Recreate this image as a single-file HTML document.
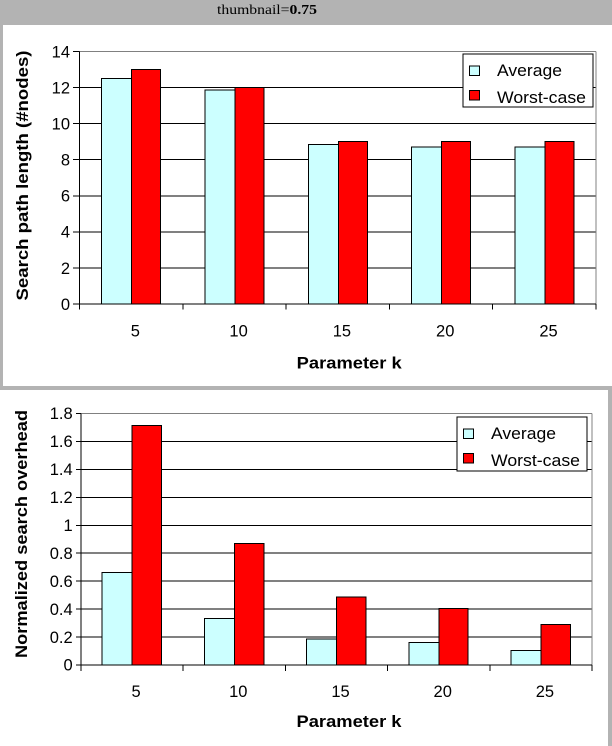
<!DOCTYPE html>
<html><head><meta charset="utf-8"><style>
html,body{margin:0;padding:0;background:#b3b3b3;}
svg{display:block;}
text{font-family:"Liberation Sans",Arial,sans-serif;fill:#000;}
</style></head><body>
<svg width="612" height="746" viewBox="0 0 612 746" xmlns="http://www.w3.org/2000/svg">
<rect x="0" y="0" width="612" height="746" fill="#b3b3b3"/>
<text x="267" y="14" text-anchor="middle" style="font-family:'Liberation Serif',serif;font-size:13.5px" textLength="100" lengthAdjust="spacingAndGlyphs">thumbnail=<tspan font-weight="bold">0.75</tspan></text>
<rect x="3" y="25" width="609" height="361" fill="#fff"/>
<rect x="0" y="390" width="608" height="356" fill="#fff"/>

<!-- TOP CHART -->
<g shape-rendering="crispEdges">
<g stroke="#000" stroke-width="1">
<line x1="79.5" y1="267.9" x2="596" y2="267.9"/>
<line x1="79.5" y1="231.8" x2="596" y2="231.8"/>
<line x1="79.5" y1="195.8" x2="596" y2="195.8"/>
<line x1="79.5" y1="159.7" x2="596" y2="159.7"/>
<line x1="79.5" y1="123.6" x2="596" y2="123.6"/>
<line x1="79.5" y1="87.5" x2="596" y2="87.5"/>
</g>
<g stroke="#808080" stroke-width="1">
<line x1="79.5" y1="51.5" x2="596" y2="51.5"/>
<line x1="596" y1="51.5" x2="596" y2="304"/>
</g>
<g stroke="#000" stroke-width="1">
<rect x="101.7" y="78.5" width="30" height="225.5" fill="#ccffff"/>
<rect x="131.7" y="69.5" width="29" height="234.5" fill="#ff0000"/>
<rect x="205" y="90.2" width="30" height="213.8" fill="#ccffff"/>
<rect x="235" y="87.5" width="29" height="216.5" fill="#ff0000"/>
<rect x="308.3" y="144.7" width="30" height="159.3" fill="#ccffff"/>
<rect x="338.3" y="141.6" width="29" height="162.4" fill="#ff0000"/>
<rect x="411.6" y="147.1" width="30" height="156.9" fill="#ccffff"/>
<rect x="441.6" y="141.6" width="29" height="162.4" fill="#ff0000"/>
<rect x="514.9" y="147.1" width="30" height="156.9" fill="#ccffff"/>
<rect x="544.9" y="141.6" width="29" height="162.4" fill="#ff0000"/>
</g>
<g stroke="#000" stroke-width="1">
<line x1="79.5" y1="51.5" x2="79.5" y2="309.5"/>
<line x1="79.5" y1="304" x2="596" y2="304"/>
<line x1="73" y1="304" x2="79.5" y2="304"/>
<line x1="73" y1="267.9" x2="79.5" y2="267.9"/>
<line x1="73" y1="231.8" x2="79.5" y2="231.8"/>
<line x1="73" y1="195.8" x2="79.5" y2="195.8"/>
<line x1="73" y1="159.7" x2="79.5" y2="159.7"/>
<line x1="73" y1="123.6" x2="79.5" y2="123.6"/>
<line x1="73" y1="87.5" x2="79.5" y2="87.5"/>
<line x1="73" y1="51.5" x2="79.5" y2="51.5"/>
<line x1="182.8" y1="304" x2="182.8" y2="309.5"/>
<line x1="286.1" y1="304" x2="286.1" y2="309.5"/>
<line x1="389.4" y1="304" x2="389.4" y2="309.5"/>
<line x1="492.7" y1="304" x2="492.7" y2="309.5"/>
<line x1="596" y1="304" x2="596" y2="309.5"/>
</g>
<rect x="463" y="54" width="130" height="53" fill="#fff" stroke="#000" stroke-width="1"/>
<rect x="469.5" y="66" width="10" height="9.5" fill="#ccffff" stroke="#000" stroke-width="1"/>
<rect x="469.5" y="90.5" width="10" height="9.5" fill="#ff0000" stroke="#000" stroke-width="1"/>
</g>
<g style="font-size:16.5px">
<text x="497" y="76" textLength="65" lengthAdjust="spacingAndGlyphs">Average</text>
<text x="497" y="103" textLength="89" lengthAdjust="spacingAndGlyphs">Worst-case</text>
</g>
<g style="font-size:16.5px" text-anchor="end">
<text x="70" y="309.9">0</text>
<text x="70" y="273.8">2</text>
<text x="70" y="237.7">4</text>
<text x="70" y="201.7">6</text>
<text x="70" y="165.6">8</text>
<text x="70" y="129.5">10</text>
<text x="70" y="93.4">12</text>
<text x="70" y="57.4">14</text>
</g>
<g style="font-size:16.5px" text-anchor="middle">
<text x="135.3" y="336.7">5</text>
<text x="238.6" y="336.7">10</text>
<text x="341.9" y="336.7">15</text>
<text x="445.2" y="336.7">20</text>
<text x="548.5" y="336.7">25</text>
</g>
<text x="349.2" y="368.3" text-anchor="middle" style="font-size:16.5px;font-weight:bold" textLength="105" lengthAdjust="spacingAndGlyphs">Parameter k</text>
<text transform="translate(28,175.5) rotate(-90)" text-anchor="middle" style="font-size:17px;font-weight:bold" textLength="250" lengthAdjust="spacingAndGlyphs">Search path length (#nodes)</text>

<!-- BOTTOM CHART -->
<g shape-rendering="crispEdges">
<g stroke="#000" stroke-width="1">
<line x1="81" y1="637.1" x2="592" y2="637.1"/>
<line x1="81" y1="609.1" x2="592" y2="609.1"/>
<line x1="81" y1="581.2" x2="592" y2="581.2"/>
<line x1="81" y1="553.2" x2="592" y2="553.2"/>
<line x1="81" y1="525.3" x2="592" y2="525.3"/>
<line x1="81" y1="497.4" x2="592" y2="497.4"/>
<line x1="81" y1="469.4" x2="592" y2="469.4"/>
<line x1="81" y1="441.5" x2="592" y2="441.5"/>
</g>
<g stroke="#808080" stroke-width="1">
<line x1="81" y1="413.5" x2="592" y2="413.5"/>
<line x1="592" y1="413.5" x2="592" y2="665"/>
</g>
<g stroke="#000" stroke-width="1">
<rect x="102.2" y="572.4" width="30" height="92.6" fill="#ccffff"/>
<rect x="132.2" y="425.6" width="29.4" height="239.4" fill="#ff0000"/>
<rect x="204.4" y="618.3" width="30" height="46.7" fill="#ccffff"/>
<rect x="234.4" y="543.3" width="29.4" height="121.7" fill="#ff0000"/>
<rect x="306.6" y="639" width="30" height="26" fill="#ccffff"/>
<rect x="336.6" y="597.2" width="29.4" height="67.8" fill="#ff0000"/>
<rect x="408.8" y="642.4" width="30" height="22.6" fill="#ccffff"/>
<rect x="438.8" y="608.3" width="29.4" height="56.7" fill="#ff0000"/>
<rect x="511" y="650.3" width="30" height="14.7" fill="#ccffff"/>
<rect x="541" y="624.3" width="29.4" height="40.7" fill="#ff0000"/>
</g>
<g stroke="#000" stroke-width="1">
<line x1="81" y1="413.5" x2="81" y2="671"/>
<line x1="81" y1="665" x2="592" y2="665"/>
<line x1="76" y1="665" x2="81" y2="665"/>
<line x1="76" y1="637.1" x2="81" y2="637.1"/>
<line x1="76" y1="609.1" x2="81" y2="609.1"/>
<line x1="76" y1="581.2" x2="81" y2="581.2"/>
<line x1="76" y1="553.2" x2="81" y2="553.2"/>
<line x1="76" y1="525.3" x2="81" y2="525.3"/>
<line x1="76" y1="497.4" x2="81" y2="497.4"/>
<line x1="76" y1="469.4" x2="81" y2="469.4"/>
<line x1="76" y1="441.5" x2="81" y2="441.5"/>
<line x1="76" y1="413.5" x2="81" y2="413.5"/>
<line x1="183.2" y1="665" x2="183.2" y2="671"/>
<line x1="285.4" y1="665" x2="285.4" y2="671"/>
<line x1="387.6" y1="665" x2="387.6" y2="671"/>
<line x1="489.8" y1="665" x2="489.8" y2="671"/>
<line x1="592" y1="665" x2="592" y2="671"/>
</g>
<rect x="457" y="417" width="130" height="54" fill="#fff" stroke="#000" stroke-width="1"/>
<rect x="463.5" y="429" width="10" height="9.5" fill="#ccffff" stroke="#000" stroke-width="1"/>
<rect x="463.5" y="453.5" width="10" height="9.5" fill="#ff0000" stroke="#000" stroke-width="1"/>
</g>
<g style="font-size:16.5px">
<text x="491" y="439" textLength="65" lengthAdjust="spacingAndGlyphs">Average</text>
<text x="491" y="466" textLength="89" lengthAdjust="spacingAndGlyphs">Worst-case</text>
</g>
<g style="font-size:16.5px" text-anchor="end">
<text x="72.7" y="670.7">0</text>
<text x="72.7" y="642.8">0.2</text>
<text x="72.7" y="614.8">0.4</text>
<text x="72.7" y="586.9">0.6</text>
<text x="72.7" y="558.9">0.8</text>
<text x="72.7" y="531">1</text>
<text x="72.7" y="503.1">1.2</text>
<text x="72.7" y="475.1">1.4</text>
<text x="72.7" y="447.2">1.6</text>
<text x="72.7" y="419.2">1.8</text>
</g>
<g style="font-size:16.5px" text-anchor="middle">
<text x="136.1" y="697">5</text>
<text x="238.3" y="697">10</text>
<text x="340.5" y="697">15</text>
<text x="442.7" y="697">20</text>
<text x="544.9" y="697">25</text>
</g>
<text x="349" y="727" text-anchor="middle" style="font-size:16.5px;font-weight:bold" textLength="105" lengthAdjust="spacingAndGlyphs">Parameter k</text>
<text transform="translate(27,534) rotate(-90)" text-anchor="middle" style="font-size:17px;font-weight:bold" textLength="248" lengthAdjust="spacingAndGlyphs">Normalized search overhead</text>
</svg>
</body></html>
